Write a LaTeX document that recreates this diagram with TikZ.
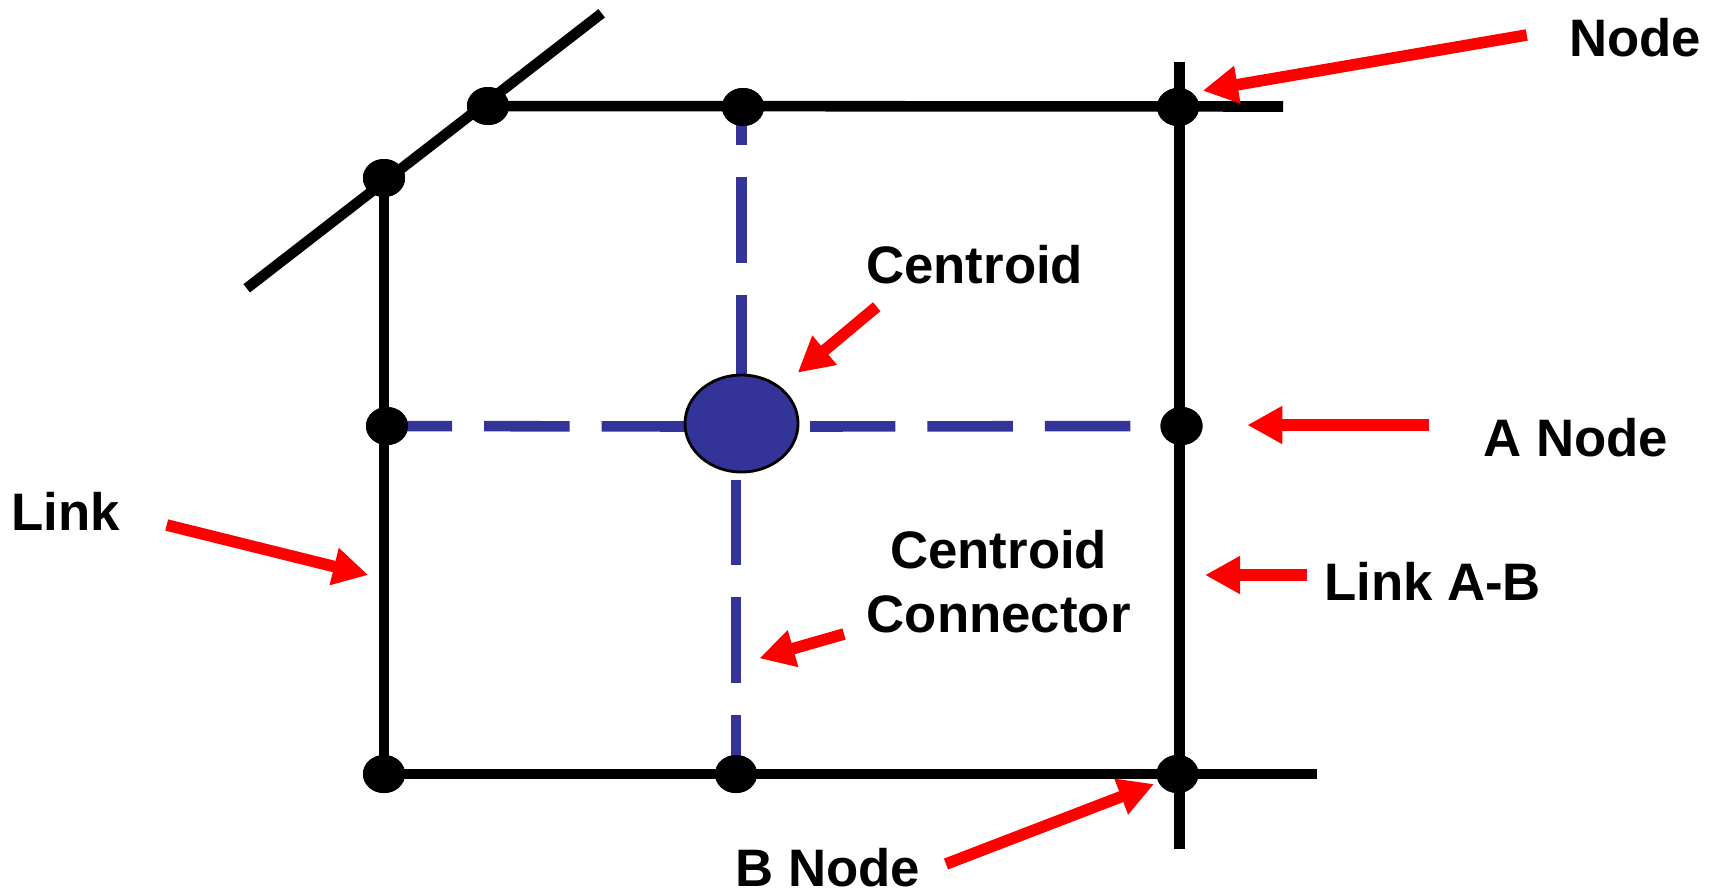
\documentclass[tikz,border=0pt]{standalone}
\usepackage{fontspec}
\setmainfont{Liberation Sans}
\usetikzlibrary{arrows.meta,shapes.geometric}
\definecolor{cblue}{HTML}{333399}
\begin{document}
\begin{tikzpicture}[x=0.01cm,y=-0.01cm,
  blk/.style={line width=3.0pt,black},
  bdash/.style={line width=3.0pt,cblue,dash pattern=on 24.3pt off 9.1pt},
  vtx/.style={ellipse,fill=black,minimum width=0.42cm,minimum height=0.38cm,inner sep=0pt},
  redarr/.style={line width=3.3pt,red,-{Triangle[length=10pt,width=10.2pt]}},
  lbl/.style={font=\fontsize{15pt}{18pt}\selectfont\bfseries,inner sep=0pt,anchor=base}]
\useasboundingbox (0,0) rectangle (1713,893);

% free ends of the links
\coordinate (dA) at (246.7,288.3);
\coordinate (dB) at (601.7,13.3);
\coordinate (tE) at (1283,106.5);
\coordinate (rT) at (1179.5,62);
\coordinate (rB) at (1179.5,849);
\coordinate (bE) at (1317,774);

% vertices
\node[vtx] (n1)  at (384,178) {};
\node[vtx] (n2)  at (488,106) {};
\node[vtx] (ntm) at (743,107) {};
\node[vtx] (ntr) at (1178,107) {};
\node[vtx] (nml) at (387,426) {};
\node[vtx] (nmr) at (1181.5,426) {};
\node[vtx] (nbl) at (384,774) {};
\node[vtx] (nbm) at (736,774) {};
\node[vtx] (nbr) at (1177.5,774) {};

% links
\draw[blk] (dA) -- (dB);
\draw[blk] (n2.center) -- (tE);
\draw[blk] (n1.center) -- (nbl.center);
\draw[blk] (rT) -- (rB);
\draw[blk] (nbl.center) -- (bE);

% centroid and its connectors
\coordinate (cU) at (741.5,380);
\coordinate (cL) at (687,426.5);
\coordinate (cR) at (810,426.5);
\coordinate (cD) at (736,480);
\draw[bdash] (cU) -- (cU |- ntm);
\draw[bdash] (cL) -- (nml.center);
\draw[bdash] (cR) -- (nmr.center);
\draw[bdash] (cD) -- (nbm.center);
\node[ellipse,draw=black,line width=0.8pt,fill=cblue,minimum width=1.13cm,minimum height=0.97cm,inner sep=0pt] (cen) at (741.5,423.5) {};

% redraw vertices on top
\foreach \v in {n1,n2,ntm,ntr,nml,nmr,nbl,nbm,nbr}{\fill (\v) ellipse [x radius=0.21cm, y radius=0.19cm];}

% labels
\node[lbl] (tNode) at (1635,56.7) {Node};
\node[lbl] (tCen)  at (974.7,283.3) {Centroid};
\node[lbl] (tANode) at (1575.8,456) {A Node};
\node[lbl] (tLink) at (65.5,530) {Link};
\node[lbl] (tCC1) at (998.7,568.3) {Centroid};
\node[lbl] (tCC2) at (998.7,632.7) {Connector};
\node[lbl] (tLAB) at (1432.5,600) {Link A-B};
\node[lbl] (tBNode) at (828,886) {B Node};

% arrows
\coordinate (a1t) at (1526.7,35);   \coordinate (a1h) at (1202.7,90.7);
\coordinate (a2t) at (876.7,306.7); \coordinate (a2h) at (797.7,372.7);
\coordinate (a3t) at (1428.7,425);  \coordinate (a3h) at (1247.3,425);
\coordinate (a4t) at (166.7,525);   \coordinate (a4h) at (368.3,575);
\coordinate (a5t) at (1306.7,575);  \coordinate (a5h) at (1205,575);
\coordinate (a6t) at (844,634);     \coordinate (a6h) at (759.3,658.3);
\coordinate (a7t) at (946,864);     \coordinate (a7h) at (1154,784);
\draw[redarr] (a1t) -- (a1h);
\draw[redarr] (a2t) -- (a2h);
\draw[redarr] (a3t) -- (a3h);
\draw[redarr] (a4t) -- (a4h);
\draw[redarr] (a5t) -- (a5h);
\draw[redarr] (a6t) -- (a6h);
\draw[redarr] (a7t) -- (a7h);
\end{tikzpicture}
\end{document}
